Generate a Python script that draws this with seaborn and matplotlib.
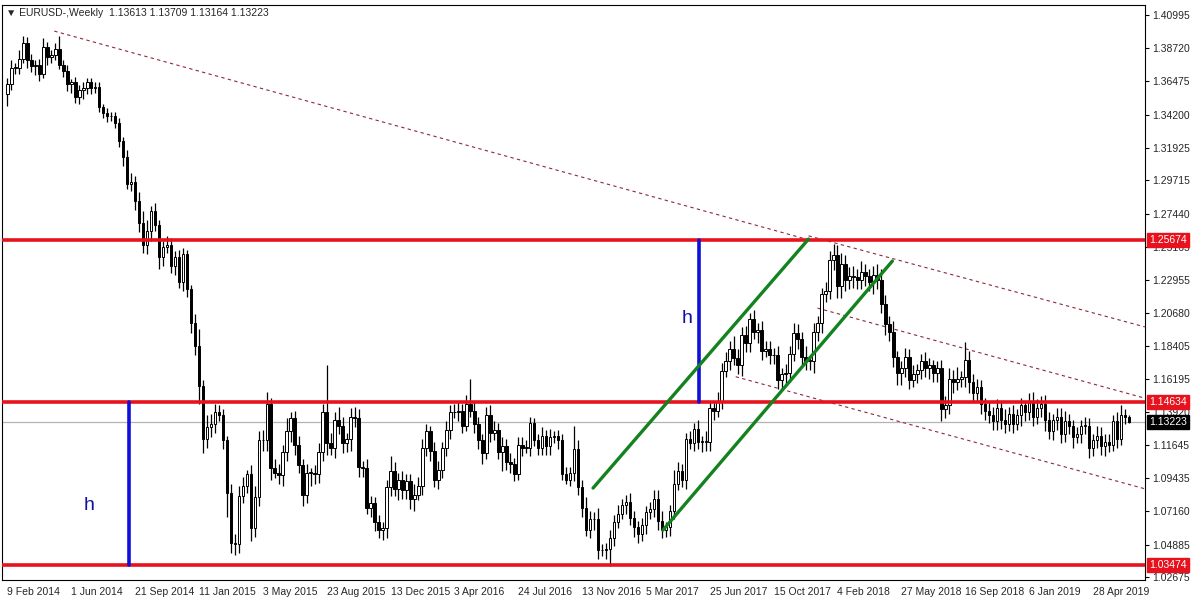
import numpy as np
import pandas as pd
import seaborn as sns
import matplotlib.pyplot as plt

# weekly closes, 9 Feb 2014 .. 30 Jun 2019
closes = [
    1.3630, 1.3740, 1.3740,
    1.3800, 1.3910, 1.3790, 1.3750, 1.3760,
    1.3700, 1.3880, 1.3810, 1.3830,
    1.3870, 1.3760, 1.3720, 1.3630,
    1.3640, 1.3540, 1.3590, 1.3600, 1.3640,
    1.3600, 1.3610, 1.3470, 1.3430,
    1.3410, 1.3410, 1.3360, 1.3240, 1.3130,
    1.2950, 1.2960, 1.2830, 1.2680,
    1.2530, 1.2630, 1.2760, 1.2670,
    1.2450, 1.2520, 1.2530, 1.2390, 1.2450,
    1.2280, 1.2470, 1.2230, 1.2000,
    # 2015
    1.1840, 1.1570, 1.1210, 1.1290,
    1.1310, 1.1390, 1.1370, 1.1200,
    1.0840, 1.0500, 1.0490, 1.0820, 1.0890,
    1.0970, 1.0600, 1.0810, 1.1200,
    1.1200, 1.1450, 1.1010, 1.0980, 1.0960,
    1.1120, 1.1260, 1.1350, 1.1170,
    1.1030, 1.0830, 1.0980, 1.0980,
    1.0970, 1.1120, 1.1390, 1.1180, 1.1150,
    1.1340, 1.1300, 1.1180, 1.1210,
    1.1360, 1.1350, 1.1020, 1.1010,
    1.0740, 1.0770, 1.0640, 1.0590, 1.0600,
    1.0880, 1.0990, 1.0870, 1.0930,
    # 2016
    1.0860, 1.0920, 1.0800, 1.0830, 1.0890,
    1.1150, 1.1260, 1.1130, 1.0930,
    1.1000, 1.1150, 1.1270, 1.1390,
    1.1390, 1.1400, 1.1300, 1.1450,
    1.1400, 1.1310, 1.1200, 1.1110, 1.1370,
    1.1250, 1.1270, 1.1120, 1.1160,
    1.1050, 1.1040, 1.0970, 1.1170, 1.1150,
    1.1150, 1.1320, 1.1200, 1.1150,
    1.1230, 1.1160, 1.1220, 1.1230,
    1.1200, 1.0970, 1.0930, 1.0980, 1.1140,
    1.0880, 1.0740, 1.0590, 1.0660,
    1.0660, 1.0450, 1.0450, 1.0460,
    # 2017
    1.0530, 1.0640, 1.0700, 1.0760, 1.0780,
    1.0670, 1.0610, 1.0560, 1.0620,
    1.0710, 1.0730, 1.0800, 1.0650,
    1.0590, 1.0610, 1.0720, 1.0900, 1.0990,
    1.0930, 1.1210, 1.1180, 1.1280,
    1.1190, 1.1190, 1.1190, 1.1420,
    1.1400, 1.1470, 1.1670, 1.1740, 1.1820,
    1.1760, 1.1710, 1.1920, 1.1860,
    1.2030, 1.1940, 1.1950, 1.1810,
    1.1820, 1.1780, 1.1780, 1.1610, 1.1650,
    1.1660, 1.1790, 1.1930, 1.1890,
    1.1770, 1.1740, 1.1740, 1.1940, 1.2000,
    # 2018
    1.2200, 1.2220, 1.2430, 1.2460,
    1.2250, 1.2400, 1.2290, 1.2320,
    1.2310, 1.2290, 1.2350, 1.2320,
    1.2280, 1.2330, 1.2290, 1.2130, 1.1990,
    1.1940, 1.1770, 1.1660, 1.1690,
    1.1770, 1.1610, 1.1650, 1.1680,
    1.1740, 1.1690, 1.1710, 1.1660, 1.1690,
    1.1410, 1.1440, 1.1620, 1.1600,
    1.1620, 1.1630, 1.1750, 1.1600, 1.1520,
    1.1560, 1.1450, 1.1400, 1.1370,
    1.1330, 1.1420, 1.1340, 1.1310,
    1.1380, 1.1310, 1.1370, 1.1440, 1.1390,
    # 2019
    1.1470, 1.1360, 1.1420, 1.1450,
    1.1340, 1.1260, 1.1340, 1.1360,
    1.1240, 1.1330, 1.1300, 1.1220, 1.1240,
    1.1300, 1.1300, 1.1150, 1.1200,
    1.1230, 1.1160, 1.1190, 1.1170,
    1.1330, 1.1210, 1.1370, 1.1361, 1.13223,
]
first_open = 1.3560
last_open = 1.13613

# wick lengths in pips above / below the body
up_wick = [
    40, 50, 30, 60, 50, 40, 45, 30, 40, 60,
    35, 30, 40, 90, 30, 40, 25, 35, 30, 40,
    30, 30, 30, 30, 25, 35, 30, 30, 40, 30,
    50, 60, 40, 60, 80, 70, 40, 60, 30, 40,
    60, 50, 40, 50, 40, 30, 30, 60, 120, 40,
    80, 70, 60, 50, 40, 30, 60, 60, 70, 60,
    30, 60, 80, 60, 70, 80, 40, 60, 60, 50,
    90, 40, 50, 60, 40, 60, 30, 50, 60, 60,
    324, 70, 50, 90, 60, 40, 60, 70, 60, 40,
    60, 50, 40, 50, 40, 50, 100, 60, 50, 60,
    50, 50, 70, 60, 60, 50, 40, 60, 60, 40,
    60, 50, 60, 70, 50, 60, 166, 60, 50, 40,
    60, 70, 60, 50, 60, 50, 60, 40, 50, 50,
    50, 40, 30, 40, 60, 40, 60, 30, 40, 40,
    50, 40, 160, 60, 50, 70, 60, 50, 80, 40,
    40, 60, 50, 60, 40, 50, 60, 50, 40, 50,
    40, 50, 60, 60, 70, 30, 40, 100, 60, 50,
    40, 50, 40, 60, 40, 70, 40, 50, 60, 60,
    60, 60, 90, 60, 50, 60, 40, 60, 50, 60,
    60, 60, 50, 60, 40, 60, 50, 70, 60, 50,
    70, 40, 60, 50, 40, 60, 60, 80, 70, 80,
    60, 60, 70, 60, 70, 50, 50, 60, 70, 80,
    60, 60, 70, 40, 50, 60, 50, 60, 40, 50,
    60, 50, 40, 50, 60, 60, 70, 60, 80, 40,
    120, 60, 50, 60, 50, 40, 70, 60, 60, 40,
    70, 50, 60, 40, 50, 30, 50, 60, 60, 50,
    60, 50, 40, 60, 60, 70, 50, 40, 50, 40,
    60, 50, 40, 70, 60, 50, 50, 40, 60, 70,
    40, 10,
]
down_wick = [
    80, 40, 40, 40, 30, 50, 40, 60, 50, 30,
    50, 40, 40, 30, 40, 50, 60, 40, 50, 60,
    40, 40, 30, 30, 30, 40, 30, 30, 40, 60,
    40, 50, 60, 60, 50, 60, 70, 40, 80, 60,
    40, 50, 60, 40, 60, 50, 70, 60, 120, 100,
    60, 70, 60, 40, 60, 160, 70, 70, 60, 50,
    50, 90, 60, 60, 70, 70, 80, 40, 60, 70,
    60, 70, 70, 50, 80, 60, 90, 70, 60, 60,
    80, 50, 70, 60, 70, 60, 80, 60, 70, 60,
    40, 60, 60, 60, 70, 70, 60, 50, 80, 60,
    60, 70, 80, 40, 60, 60, 70, 50, 60, 60,
    60, 60, 40, 60, 50, 40, 40, 60, 60, 70,
    40, 60, 50, 50, 130, 50, 60, 50, 40, 60,
    40, 60, 40, 50, 50, 60, 60, 40, 60, 40,
    30, 40, 60, 50, 60, 40, 60, 70, 60, 40,
    60, 120, 50, 40, 40, 60, 50, 70, 60, 50,
    60, 50, 50, 60, 60, 50, 60, 60, 40, 50,
    60, 40, 50, 50, 70, 60, 60, 60, 40, 60,
    40, 60, 50, 60, 70, 60, 60, 50, 80, 60,
    40, 60, 60, 60, 60, 70, 60, 50, 70, 60,
    60, 60, 80, 60, 70, 60, 60, 70, 80, 80,
    70, 60, 70, 60, 60, 70, 60, 80, 60, 60,
    70, 60, 70, 80, 80, 60, 60, 50, 60, 60,
    60, 70, 60, 60, 80, 60, 60, 80, 60, 60,
    70, 80, 60, 60, 70, 60, 50, 60, 60, 60,
    60, 50, 60, 40, 70, 60, 50, 60, 50, 60,
    80, 50, 60, 70, 60, 50, 60, 70, 40, 60,
    60, 70, 60, 50, 60, 70, 50, 40, 60, 40,
    50, 6,
]

x_labels = ["9 Feb 2014", "1 Jun 2014", "21 Sep 2014", "11 Jan 2015", "3 May 2015",
            "23 Aug 2015", "13 Dec 2015", "3 Apr 2016", "24 Jul 2016", "13 Nov 2016",
            "5 Mar 2017", "25 Jun 2017", "15 Oct 2017", "4 Feb 2018", "27 May 2018",
            "16 Sep 2018", "6 Jan 2019", "28 Apr 2019"]
y_ticks = [1.40995, 1.38720, 1.36475, 1.34200, 1.31925, 1.29715, 1.27440, 1.25165,
           1.22955, 1.20680, 1.18405, 1.16195, 1.13920, 1.11645, 1.09435, 1.07160,
           1.04885, 1.02675]
levels = [1.25674, 1.14634, 1.03474]
last_price = 1.13223

n = len(closes)
opens = [first_open] + closes[:-1]
opens[-1] = last_open
df = pd.DataFrame({"open": opens, "close": closes})
df["high"] = df[["open", "close"]].max(axis=1) + np.array(up_wick) / 10000
df["low"] = df[["open", "close"]].min(axis=1) - np.array(down_wick) / 10000
df["x"] = np.arange(n)

sns.set_theme(style="white")
plt.rcParams['font.family'] = ['Liberation Sans', 'DejaVu Sans']

fig = plt.figure(figsize=(12, 6), dpi=100)
ax = fig.add_axes([0.002, 1 - 580 / 600, 0.952, 575 / 600])

# wicks
ax.vlines(df["x"], df["low"], df["high"], color="black", lw=0.9, zorder=2)
# bodies
body_h = (df["close"] - df["open"]).abs().clip(lower=0.0004)
body_b = df[["open", "close"]].min(axis=1)
colors = np.where(df["close"] >= df["open"], "white", "black")
ax.bar(df["x"], body_h, bottom=body_b, width=0.65, color=colors,
       edgecolor="black", linewidth=0.7, zorder=3)

# last price line
ax.axhline(last_price, color="#b4b4b4", lw=0.9, zorder=1)

# support / resistance levels
for lv in levels:
    ax.axhline(lv, color="#e8121e", lw=2.6, zorder=4)

# measured-move markers
ax.plot([30.5, 30.5], [levels[2], levels[1]], color="#1010d8", lw=2.6, zorder=5)
ax.plot([173.25, 173.25], [levels[1], levels[0]], color="#1010d8", lw=2.6, zorder=5)
ax.text(20.5, 1.0758, "h", color="#1010a0", fontsize=14, ha="center", va="center")
ax.text(170.3, 1.2033, "h", color="#1010a0", fontsize=14, ha="center", va="center")

# rising channel
ax.plot([146.75, 200.75], [1.0874, 1.2572], color="#14821e", lw=2.4, zorder=5)
ax.plot([164.25, 221.75], [1.0587, 1.2422], color="#14821e", lw=2.4, zorder=5)

# falling dashed trend lines
trend_col = "#8c2a3a"
for (x0, p0), (x1, p1) in [((11.75, 1.3990), (200.75, 1.2567)),
                           ((200.75, 1.2594), (285.0, 1.1973)),
                           ((203.0, 1.2101), (285.0, 1.1487)),
                           ((182.5, 1.1633), (285.0, 1.0869))]:
    ax.plot([x0, x1], [p0, p1], color=trend_col, lw=0.8, ls=(0, (3, 3)), zorder=1)

ax.set_xlim(-1.25, 285)
ax.set_ylim(1.0247, 1.4168)
ax.set_xticks(np.arange(len(x_labels)) * 16)
ax.set_xticklabels(x_labels, fontsize=7.5, ha="left")
ax.yaxis.tick_right()
ax.set_yticks(y_ticks)
ax.set_yticklabels([f"{t:.5f}" for t in y_ticks], fontsize=7.5)
ax.tick_params(axis="both", length=3, width=0.8, color="black", pad=2, direction="out")
for s in ax.spines.values():
    s.set_color("black")
    s.set_linewidth(0.8)

# price tags on the right axis
for lv in levels:
    ax.text(1.004, lv, f"{lv:.5f}", transform=ax.get_yaxis_transform(), fontsize=7.5,
            color="white", va="center", ha="left", zorder=6,
            bbox=dict(boxstyle="square,pad=0.2", fc="#e8121e", ec="#e8121e"))
ax.text(1.004, last_price, f"{last_price:.5f}", transform=ax.get_yaxis_transform(),
        fontsize=7.5, color="white", va="center", ha="left", zorder=6,
        bbox=dict(boxstyle="square,pad=0.2", fc="black", ec="black"))

ax.text(0.003, 0.995, "\u25bc EURUSD-,Weekly  1.13613 1.13709 1.13164 1.13223",
        transform=ax.transAxes, fontsize=7.5, va="top", ha="left",
        family=['Liberation Sans', 'DejaVu Sans'])

fig.savefig("out.png", dpi=100)
